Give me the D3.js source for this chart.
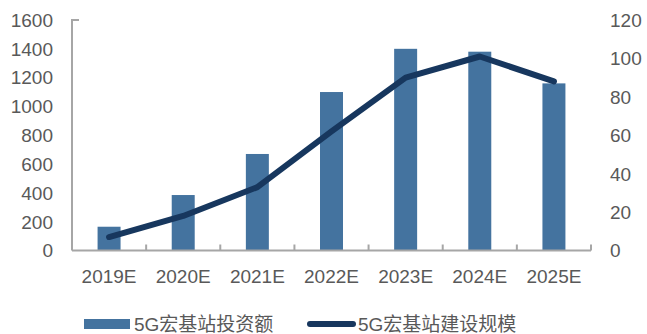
<!DOCTYPE html>
<html>
<head>
<meta charset="utf-8">
<script src="https://cdn.jsdelivr.net/npm/d3@7"></script>
<style>
    body { margin: 0; background: #fff; }
    svg text { font-family: "Liberation Sans", Arial, "Noto Sans CJK SC", sans-serif; }
</style>
</head>
<body>
<svg id="chart" width="647" height="334"></svg>
<script>
var years = ["2019E", "2020E", "2021E", "2022E", "2023E", "2024E", "2025E"];
var investment = [165, 385, 670, 1100, 1400, 1380, 1160];
var stations = [7, 18, 33, 62, 90, 101, 88];
var leftTicks = [0, 200, 400, 600, 800, 1000, 1200, 1400, 1600];
var rightTicks = [0, 20, 40, 60, 80, 100, 120];
var legendNames = ["5G宏基站投资额", "5G宏基站建设规模"];

var barColor = "#44739f",
    lineColor = "#17375e",
    axisColor = "#a6a6a6",
    textColor = "#595959",
    fontSize = 19;

var plotLeft = 72, plotRight = 591, plotTop = 20, plotBottom = 250.5;

var svg = d3.select("#chart");

var x = d3.scaleBand().domain(years).range([plotLeft, plotRight]).paddingInner(0.69).paddingOuter(0.345);
var xEdges = d3.scaleBand().domain(years).range([plotLeft, plotRight]);
var yLeft = d3.scaleLinear().domain([0, 1600]).range([plotBottom, plotTop]);
var yRight = d3.scaleLinear().domain([0, 120]).range([plotBottom, plotTop]);

// bars
svg.append("g")
    .selectAll("rect")
    .data(investment)
    .enter()
    .append("rect")
    .attr("x", function(d, i) { return x(years[i]); })
    .attr("y", function(d) { return yLeft(d); })
    .attr("width", x.bandwidth())
    .attr("height", function(d) { return yLeft(0) - yLeft(d); })
    .style("fill", barColor);

// left axis line with top cap
svg.append("path")
    .attr("d", "M" + (plotLeft + 7) + "," + plotTop + "H" + plotLeft + "V" + plotBottom)
    .style("fill", "none")
    .style("stroke", axisColor)
    .style("stroke-width", 2);

// bottom axis with upward ticks at category edges
var edges = years.map(function(y) { return xEdges(y); }).concat([plotRight]);
svg.append("path")
    .attr("d", "M" + plotLeft + "," + plotBottom + "H" + plotRight)
    .style("stroke", axisColor)
    .style("stroke-width", 2);
svg.append("g")
    .selectAll("line")
    .data(edges.slice(1))
    .enter()
    .append("line")
    .attr("x1", function(d) { return d; })
    .attr("x2", function(d) { return d; })
    .attr("y1", plotBottom)
    .attr("y2", plotBottom - 6)
    .style("stroke", axisColor)
    .style("stroke-width", 2);

// tick labels
svg.append("g")
    .selectAll("text")
    .data(leftTicks)
    .enter()
    .append("text")
    .attr("x", 53)
    .attr("y", function(d) { return yLeft(d); })
    .attr("dy", "0.36em")
    .attr("text-anchor", "end")
    .style("font-size", fontSize + "px")
    .style("fill", textColor)
    .text(function(d) { return d; });

svg.append("g")
    .selectAll("text")
    .data(rightTicks)
    .enter()
    .append("text")
    .attr("x", 610)
    .attr("y", function(d) { return yRight(d); })
    .attr("dy", "0.36em")
    .attr("text-anchor", "start")
    .style("font-size", fontSize + "px")
    .style("fill", textColor)
    .text(function(d) { return d; });

svg.append("g")
    .selectAll("text")
    .data(years)
    .enter()
    .append("text")
    .attr("x", function(d) { return xEdges(d) + xEdges.bandwidth() / 2; })
    .attr("y", 283)
    .attr("text-anchor", "middle")
    .style("font-size", fontSize + "px")
    .style("fill", textColor)
    .text(function(d) { return d; });

// line
var line = d3.line()
    .x(function(d, i) { return xEdges(years[i]) + xEdges.bandwidth() / 2; })
    .y(function(d) { return yRight(d); });

svg.append("path")
    .datum(stations)
    .attr("d", line)
    .style("fill", "none")
    .style("stroke", lineColor)
    .style("stroke-width", 6)
    .style("stroke-linecap", "round")
    .style("stroke-linejoin", "round");

// legend
var legendY = 324;
svg.append("rect")
    .attr("x", 84)
    .attr("y", legendY - 5)
    .attr("width", 46)
    .attr("height", 10)
    .style("fill", barColor);
svg.append("text")
    .attr("x", 134)
    .attr("y", legendY)
    .attr("dy", "0.36em")
    .style("font-size", fontSize + "px")
    .style("fill", textColor)
    .text(legendNames[0]);
svg.append("line")
    .attr("x1", 310)
    .attr("x2", 353)
    .attr("y1", legendY)
    .attr("y2", legendY)
    .style("stroke", lineColor)
    .style("stroke-width", 6)
    .style("stroke-linecap", "round");
svg.append("text")
    .attr("x", 358)
    .attr("y", legendY)
    .attr("dy", "0.36em")
    .style("font-size", fontSize + "px")
    .style("fill", textColor)
    .text(legendNames[1]);
</script>
</body>
</html>
